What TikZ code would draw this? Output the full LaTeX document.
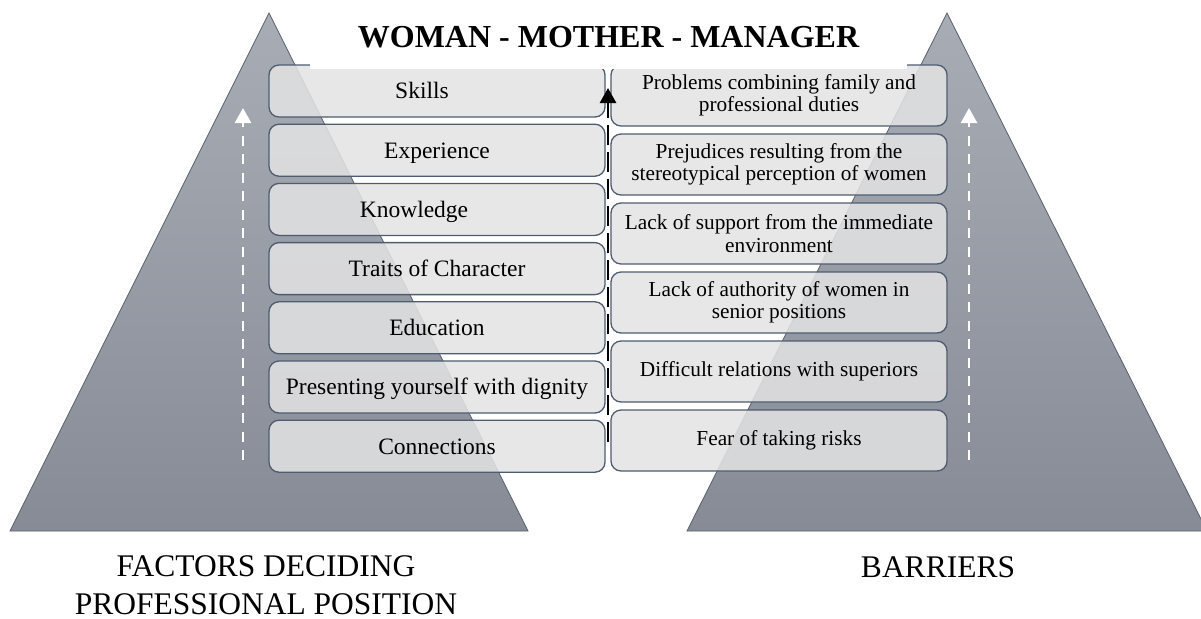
\documentclass[tikz,border=0pt]{standalone}
\usepackage{fontspec}
\setmainfont{Liberation Serif}
\usetikzlibrary{arrows.meta}
\definecolor{pyrtop}{RGB}{168,173,181}
\definecolor{pyrbot}{RGB}{134,139,150}
\definecolor{pyredge}{RGB}{90,96,108}
\definecolor{boxfill}{RGB}{227,227,227}
\definecolor{boxedge}{RGB}{78,92,112}
\begin{document}
\begin{tikzpicture}[x=1pt,y=-1pt,
  pyramid/.style={top color=pyrtop,bottom color=pyrbot,draw=pyredge,line width=0.8pt},
  panel/.style={draw=boxedge,line width=1.3pt,fill=boxfill,fill opacity=0.86,
    text opacity=1,rounded corners=10pt,minimum width=336pt,inner sep=0pt},
  factor/.style={panel,minimum height=52pt,font=\fontsize{23.5}{26}\selectfont,
    text height=21pt,text depth=5.4pt},
  barrier/.style={panel,minimum height=61pt,align=center,
    font=\fontsize{21.3}{22.5}\selectfont},
  upflow/.style={white,line width=2.7pt,dash pattern=on 10pt off 8.5pt,
    -{Triangle[length=15pt,width=16pt]}},
  spine/.style={black,line width=2.8pt,dash pattern=on 20pt off 7pt,
    -{Triangle[length=15pt,width=16pt]}},
  caption/.style={font=\fontsize{31.5}{38}\selectfont,align=center,inner sep=0pt}
]
\useasboundingbox (0,0) rectangle (1201,618);

% the two pyramids
\path[pyramid] (10,531) -- (269,13) -- (528,531) -- cycle;
\path[pyramid] (687,531) -- (947,13) -- (1207,531) -- cycle;

% factors (left column)
\node[factor] (f1) at (437,91)    {Skills\hspace*{30pt}};
\node[factor] (f2) at (437,150.2) {Experience};
\node[factor] (f3) at (437,209.4) {Knowledge\hspace*{46pt}};
\node[factor] (f4) at (437,268.6) {Traits of Character};
\node[factor] (f5) at (437,327.8) {Education};
\node[factor] (f6) at (437,387)   {Presenting yourself with dignity};
\node[factor] (f7) at (437,446.2) {Connections};

% barriers (right column)
\node[barrier] (b1) at (779,95.5)  {Problems combining family and\\professional duties};
\node[barrier] (b2) at (779,164.5) {Prejudices resulting from the\\stereotypical perception of women};
\node[barrier] (b3) at (779,233.5) {Lack of support from the immediate\\environment};
\node[barrier] (b4) at (779,302.5) {Lack of authority of women in\\senior positions};
\node[barrier] (b5) at (779,371.5) {Difficult relations with superiors};
\node[barrier] (b6) at (779,440.5) {Fear of taking risks};

% heading on a white band
\node[fill=white,minimum width=597pt,minimum height=63pt,inner sep=0pt,
  font=\bfseries\fontsize{32}{38}\selectfont] (title) at (608.5,37.5)
  {WOMAN - MOTHER - MANAGER};

% central spine and rising arrows
\coordinate (sb) at (608,442);
\coordinate (st) at (608,88);
\draw[spine] (sb) -- (st);
\coordinate (lb) at (243,460);
\coordinate (lt) at (243,108);
\draw[upflow] (lb) -- (lt);
\coordinate (rb) at (969,460);
\coordinate (rt) at (969,108);
\draw[upflow] (rb) -- (rt);

% captions
\node[caption] (factors) at (266,585) {FACTORS DECIDING\\PROFESSIONAL POSITION};
\node[caption] (barriers) at (938,567) {BARRIERS};
\end{tikzpicture}
\end{document}
